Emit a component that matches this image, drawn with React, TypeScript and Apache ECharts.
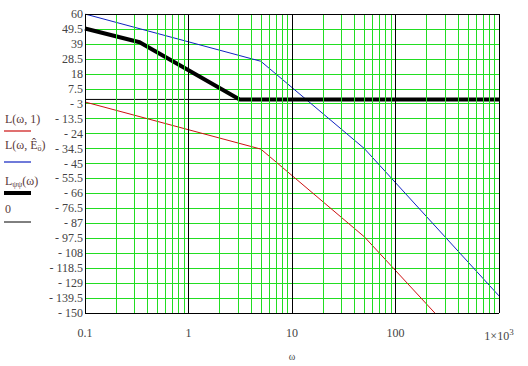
import React, { useEffect, useRef } from 'react';
import * as echarts from 'echarts';

// y axis is shown from -150 to 60 in steps of 10.5 (ticks start at 60)
const Y_MIN = -150;
const Y_MAX = 60;
const Y_STEP = 10.5;

// x tick labels (log decades 0.1 .. 1000)
const xTickLabels = ['0.1', '1', '10', '100', '1×10{sup|3}'];

// series (ω, dB)
const seriesL1: [number, number][] = [
  [0.1, -1.8], [5, -34.9], [50, -96.5], [240, -150],
];
const seriesLE0: [number, number][] = [
  [0.1, 60], [5, 26.8], [50, -34.5], [1000, -138],
];
const seriesLpsi: [number, number][] = [
  [0.1, 49.8], [0.337, 40.2], [3.12, 0], [1000, 0],
];
const seriesZero: [number, number][] = [
  [0.1, 0], [1000, 0],
];

const decadeStarts = [0.1, 1, 10, 100];
const minorMult = [2, 3, 4, 5, 6, 7, 8, 9];
const majorX = [1, 10, 100];

const GREEN = '#22dd22';
const FONT = 'Liberation Serif';

export default function App() {
  const ref = useRef<HTMLDivElement>(null);
  useEffect(() => {
    document.body.style.margin = '0';
    if (!ref.current) return;
    const chart = echarts.init(ref.current, undefined, { renderer: 'svg' });
    const sh = (d: [number, number][]) => d.map(([x, y]) => [x, y - Y_MIN]);
    const minorX: number[] = [];
    decadeStarts.forEach((d) => minorMult.forEach((m) => minorX.push(+(d * m).toPrecision(6))));
    const black = { color: '#000000', width: 1, type: 'solid' };
    const gridLines: any[] = [];
    minorX.forEach((v) => gridLines.push({ xAxis: v }));
    majorX.forEach((v) => gridLines.push({ xAxis: v, lineStyle: black }));
    [0.1, 1000].forEach((v) => gridLines.push({ xAxis: v, lineStyle: black }));
    [0, Y_MAX - Y_MIN].forEach((v) => gridLines.push({ yAxis: v, lineStyle: black }));

    const legendText = (y: number, text: string, rich?: any) => ({
      type: 'text', left: 5, top: y,
      style: { text, fill: '#5a3a3a', fontFamily: FONT, fontSize: 12, rich },
    });
    const legendLine = (y: number, color: string, w: number) => ({
      type: 'line', shape: { x1: 4, y1: y, x2: 31, y2: y },
      style: { stroke: color, lineWidth: w },
    });
    const subRich = {
      sub: { fontSize: 8, fill: '#5a3a3a', fontFamily: FONT, padding: [6, 0, 0, 0] },
      n: { fontSize: 12, fill: '#5a3a3a', fontFamily: FONT },
    };

    chart.setOption({
      animation: false,
      textStyle: { fontFamily: FONT },
      grid: { left: 85, top: 14, width: 414, height: 305, containLabel: false },
      xAxis: {
        type: 'log', logBase: 10, min: 0.1, max: 1000,
        axisLine: { show: false }, axisTick: { show: false }, splitLine: { show: false },
        axisLabel: {
          margin: 14, color: '#444444', fontFamily: FONT, fontSize: 12,
          formatter: (v: number) => xTickLabels[Math.round(Math.log10(v)) + 1] ?? String(v),
          rich: { sup: { fontSize: 9, color: '#444444', fontFamily: FONT, padding: [0, 0, 8, 0] } },
        },
        name: 'ω', nameLocation: 'middle', nameGap: 38,
        nameTextStyle: { color: '#444444', fontFamily: FONT, fontSize: 10 },
      },
      yAxis: {
        type: 'value', min: 0, max: Y_MAX - Y_MIN, interval: Y_STEP,
        axisLine: { show: false }, axisTick: { show: false },
        splitLine: { show: true, lineStyle: { color: GREEN, width: 1 } },
        axisLabel: {
          margin: 2, color: '#444444', fontFamily: FONT, fontSize: 12,
          formatter: (v: number) => {
            const r = Math.round((v + Y_MIN) * 10) / 10;
            return r < 0 ? '- ' + -r : String(r);
          },
        },
      },
      series: [
        {
          type: 'line', data: [], z: 1, silent: true,
          markLine: {
            symbol: ['none', 'none'], silent: true, label: { show: false }, animation: false,
            lineStyle: { color: GREEN, width: 1, type: 'solid' },
            emphasis: { disabled: true },
            data: gridLines,
          },
        },
        { name: '0', type: 'line', data: sh(seriesZero), showSymbol: false, z: 2, lineStyle: { color: '#000', width: 1 } },
        { name: 'L(ω, 1)', type: 'line', data: sh(seriesL1), showSymbol: false, z: 3, lineStyle: { color: '#cc1111', width: 1 } },
        { name: 'L(ω, Ê0)', type: 'line', data: sh(seriesLE0), showSymbol: false, z: 3, lineStyle: { color: '#1022c0', width: 1 } },
        { name: 'Lψψ(ω)', type: 'line', data: sh(seriesLpsi), showSymbol: false, z: 4, lineStyle: { color: '#000', width: 4 } },
      ],
      graphic: [
        legendText(113, 'L(ω, 1)'),
        legendLine(131, '#cc1111', 1.2),
        legendText(139, '{n|L(ω, Ê}{sub|ö}{n|)}', subRich),
        legendLine(162, '#1022c0', 1.2),
        legendText(175, '{n|L}{sub|ψψ}{n|(ω)}', subRich),
        legendLine(193, '#000', 4),
        legendText(203, '0'),
        legendLine(222, '#000', 1),
      ],
    });
    return () => chart.dispose();
  }, []);
  return <div ref={ref} style={{ width: 528, height: 366 }} />;
}
